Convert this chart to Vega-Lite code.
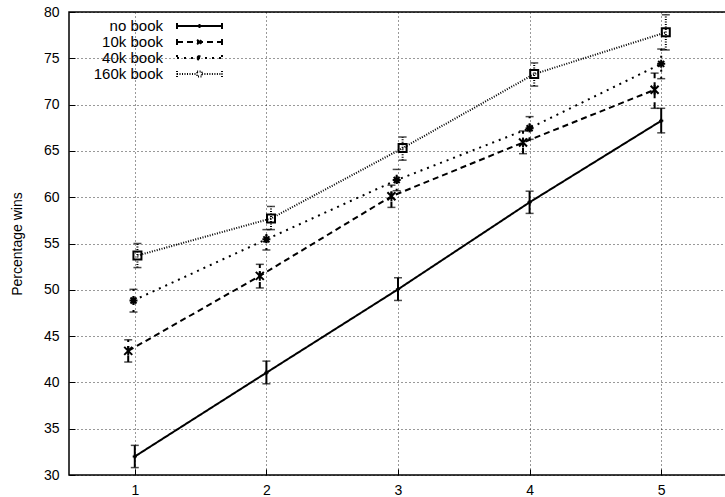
{
  "$schema": "https://vega.github.io/schema/vega-lite/v6.json",
  "width": 658,
  "height": 463,
  "autosize": {"type": "none"},
  "padding": {"left": 69, "top": 12, "right": 0, "bottom": 22},
  "background": "white",
  "config": {
    "font": "Liberation Sans",
    "view": {"stroke": "black", "strokeWidth": 1.5},
    "axis": {
      "labelFont": "Liberation Sans",
      "labelFontSize": 14,
      "labelColor": "black",
      "titleColor": "black",
      "domain": false,
      "tickColor": "black",
      "tickSize": -6,
      "tickWidth": 1,
      "gridColor": "#000",
      "gridDash": [1, 3],
      "gridOpacity": 0.8
    }
  },
  "data": {
    "values": [
      {"series": "no book", "x": 1, "y": 32.0, "lo": 30.8, "hi": 33.2},
      {"series": "no book", "x": 2, "y": 41.05, "lo": 39.85, "hi": 42.3},
      {"series": "no book", "x": 3, "y": 50.05, "lo": 48.85, "hi": 51.3},
      {"series": "no book", "x": 4, "y": 59.45, "lo": 58.25, "hi": 60.65},
      {"series": "no book", "x": 5, "y": 68.25, "lo": 66.95, "hi": 69.6},
      {"series": "10k book", "x": 0.95, "y": 43.4, "lo": 42.2, "hi": 44.6},
      {"series": "10k book", "x": 1.95, "y": 51.5, "lo": 50.2, "hi": 52.75},
      {"series": "10k book", "x": 2.95, "y": 60.1, "lo": 58.9, "hi": 61.3},
      {"series": "10k book", "x": 3.95, "y": 65.9, "lo": 64.7, "hi": 67.15},
      {"series": "10k book", "x": 4.95, "y": 71.6, "lo": 69.6, "hi": 73.4},
      {"series": "40k book", "x": 0.99, "y": 48.85, "lo": 47.6, "hi": 50.05},
      {"series": "40k book", "x": 2.0, "y": 55.45, "lo": 54.3, "hi": 56.5},
      {"series": "40k book", "x": 2.99, "y": 61.85, "lo": 60.7, "hi": 63.0},
      {"series": "40k book", "x": 4.0, "y": 67.45, "lo": 66.25, "hi": 68.7},
      {"series": "40k book", "x": 5.0, "y": 74.4, "lo": 72.8, "hi": 76.0},
      {"series": "160k book", "x": 1.02, "y": 53.7, "lo": 52.4, "hi": 55.0},
      {"series": "160k book", "x": 2.035, "y": 57.7, "lo": 56.5, "hi": 59.0},
      {"series": "160k book", "x": 3.035, "y": 65.3, "lo": 64.0, "hi": 66.5},
      {"series": "160k book", "x": 4.035, "y": 73.3, "lo": 72.0, "hi": 74.5},
      {"series": "160k book", "x": 5.035, "y": 77.8, "lo": 75.9, "hi": 79.7}
    ]
  },
  "layer": [
    {
      "mark": {"type": "line", "color": "black"},
      "encoding": {
        "x": {"field": "x", "type": "quantitative", "scale": {"domain": [0.5, 5.5], "nice": false, "zero": false},
              "axis": {"values": [1, 2, 3, 4, 5], "format": "d", "title": null, "labelPadding": 14, "grid": true}},
        "y": {"field": "y", "type": "quantitative", "scale": {"domain": [30, 80], "nice": false, "zero": false},
              "axis": {"values": [30, 35, 40, 45, 50, 55, 60, 65, 70, 75, 80], "title": "Percentage wins", "titleFontSize": 14, "titleFontWeight": "normal", "titleFont": "Liberation Sans", "titlePadding": 19, "labelPadding": 16, "grid": true}},
        "strokeDash": {
          "field": "series", "type": "nominal",
          "scale": {"domain": ["no book", "10k book", "40k book", "160k book"], "range": [[1, 0], [6, 4], [2, 5], [1, 1.5]]},
          "legend": {
            "orient": "none", "legendX": 123, "legendY": 6.5, "title": null, "padding": 0,
            "symbolType": "M-7.5,0H7.5M-7.5,-1V1M7.5,-1V1",
            "symbolSize": 36, "symbolStrokeColor": "black", "symbolStrokeWidth": 2, "symbolFillColor": "transparent",
            "labelAlign": "right", "labelOffset": -44, "labelFontSize": 15, "labelFont": "Liberation Sans", "labelColor": "black",
            "rowPadding": 0, "labelLimit": 200,
            "encode": {"symbols": {"update": {
              "shape": {"signal": "datum.value === 'no book' ? 'M-7.5,0H7.5M-7.5,-1V1M7.5,-1V1M0,-0.7V0.7' : datum.value === '10k book' ? 'M-7.5,0H7.5M-7.5,-1V1M7.5,-1V1M-0.8,-0.8L0.8,0.8M-0.8,0.8L0.8,-0.8' : datum.value === '40k book' ? 'M-7.5,0H7.5M-7.5,-1V1M7.5,-1V1M-0.9,0H0.9M0,-0.9V0.9M-0.7,-0.7L0.7,0.7M-0.7,0.7L0.7,-0.7' : 'M-7.5,0H-0.8M0.8,0H7.5M-7.5,-1V1M7.5,-1V1M-0.8,-0.8H0.8V0.8H-0.8Z'"},
              "strokeWidth": {"signal": "datum.value === '160k book' ? 1 : 2"}
            }}}
          }
        },
        "strokeWidth": {
          "field": "series", "type": "ordinal",
          "scale": {"domain": ["no book", "10k book", "40k book", "160k book"], "range": [2, 2, 2.5, 1]},
          "legend": null
        }
      }
    },
    {
      "mark": {"type": "rule", "color": "black"},
      "encoding": {
        "x": {"field": "x", "type": "quantitative"},
        "y": {"field": "lo", "type": "quantitative"},
        "y2": {"field": "hi"},
        "strokeDash": {"field": "series", "type": "nominal", "legend": null},
        "strokeWidth": {"field": "series", "type": "ordinal", "legend": null}
      }
    },
    {
      "mark": {"type": "tick", "color": "black", "orient": "horizontal", "thickness": 1.5, "size": 8},
      "encoding": {
        "x": {"field": "x", "type": "quantitative"},
        "y": {"field": "lo", "type": "quantitative"}
      }
    },
    {
      "mark": {"type": "tick", "color": "black", "orient": "horizontal", "thickness": 1.5, "size": 8},
      "encoding": {
        "x": {"field": "x", "type": "quantitative"},
        "y": {"field": "hi", "type": "quantitative"}
      }
    },
    {
      "transform": [{"filter": "datum.series === 'no book'"}],
      "mark": {"type": "point", "filled": false, "color": "black", "strokeWidth": 2, "opacity": 1, "size": 36, "shape": "M-0.7,0H0.7M0,-0.7V0.7"},
      "encoding": {"x": {"field": "x", "type": "quantitative"}, "y": {"field": "y", "type": "quantitative"}}
    },
    {
      "transform": [{"filter": "datum.series === '10k book'"}],
      "mark": {"type": "point", "filled": false, "color": "black", "strokeWidth": 2, "opacity": 1, "size": 64, "shape": "M-1,-1L1,1M-1,1L1,-1M0,-1.2V1.2"},
      "encoding": {"x": {"field": "x", "type": "quantitative"}, "y": {"field": "y", "type": "quantitative"}}
    },
    {
      "transform": [{"filter": "datum.series === '40k book'"}],
      "mark": {"type": "point", "filled": false, "color": "black", "strokeWidth": 2, "opacity": 1, "size": 64, "shape": "M-1,0H1M0,-1V1M-0.75,-0.75L0.75,0.75M-0.75,0.75L0.75,-0.75"},
      "encoding": {"x": {"field": "x", "type": "quantitative"}, "y": {"field": "y", "type": "quantitative"}}
    },
    {
      "transform": [{"filter": "datum.series === '160k book'"}],
      "mark": {"type": "point", "filled": false, "color": "black", "strokeWidth": 2, "opacity": 1, "size": 64, "shape": "M-1,-1H1V1H-1Z"},
      "encoding": {"x": {"field": "x", "type": "quantitative"}, "y": {"field": "y", "type": "quantitative"}}
    }
  ]
}
